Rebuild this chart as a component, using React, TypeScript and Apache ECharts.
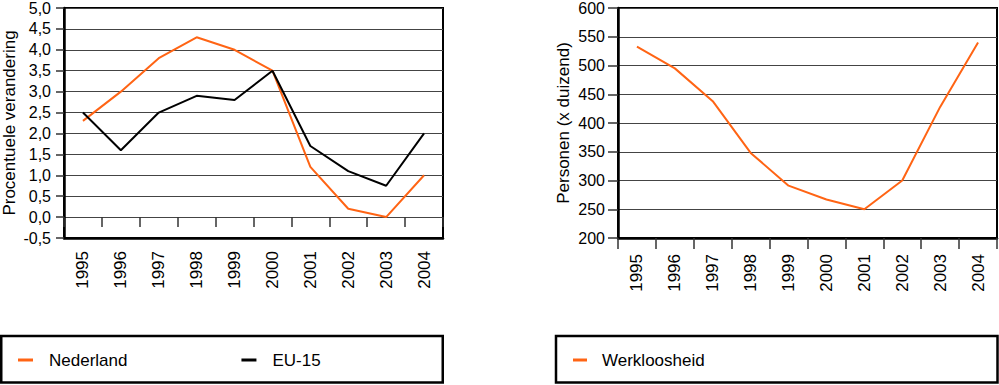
import React, { useEffect, useRef } from "react";
import * as echarts from "echarts";

const years = ["1995", "1996", "1997", "1998", "1999", "2000", "2001", "2002", "2003", "2004"];
const nederland = [2.3, 3.0, 3.8, 4.3, 4.0, 3.5, 1.2, 0.2, 0.0, 1.0];
const eu15 = [2.5, 1.6, 2.5, 2.9, 2.8, 3.5, 1.7, 1.1, 0.75, 2.0];
const werkloosheid = [533, 495, 438, 348, 291, 267, 250, 300, 428, 540];

const ORANGE = "#ff6414";
const FONT = "'Liberation Sans', Arial, sans-serif";

export default function App() {
  const ref = useRef<HTMLDivElement>(null);
  useEffect(() => {
    document.body.style.margin = "0";
    if (!ref.current) return;
    const chart = echarts.init(ref.current, undefined, { renderer: "svg" });
    const axisLabelStyle = { color: "#000", fontSize: 16, fontFamily: FONT };
    const yearLabel = {
      rotate: 90,
      color: "#000",
      fontSize: 17,
      fontFamily: FONT,
      interval: 0,
    };
    chart.setOption({
      animation: false,
      textStyle: { fontFamily: FONT },
      grid: [
        { left: 63, top: 6, width: 380, height: 232, show: true, borderColor: "#000", borderWidth: 2, containLabel: false },
        { left: 618, top: 6, width: 379, height: 232, show: true, borderColor: "#000", borderWidth: 2, containLabel: false },
      ],
      xAxis: [
        {
          type: "category",
          gridIndex: 0,
          position: "bottom",
          data: years,
          boundaryGap: true,
          axisLine: { show: true, onZero: false, lineStyle: { color: "#000", width: 2.5 } },
          axisTick: { show: false },
          axisLabel: { ...yearLabel, margin: 13 },
        },
        {
          type: "category",
          gridIndex: 0,
          position: "bottom",
          data: years,
          boundaryGap: true,
          axisLine: { show: false, onZero: true },
          axisTick: { show: true, length: 10, lineStyle: { color: "#333", width: 1.5 } },
          axisLabel: { show: false },
        },
        {
          type: "category",
          gridIndex: 1,
          position: "bottom",
          data: years,
          boundaryGap: true,
          axisLine: { show: true, onZero: false, lineStyle: { color: "#000", width: 2.5 } },
          axisTick: { show: true, length: 11, lineStyle: { color: "#333", width: 1.5 } },
          axisLabel: { ...yearLabel, margin: 16 },
        },
      ],
      yAxis: [
        {
          type: "value",
          gridIndex: 0,
          min: -0.5,
          max: 5,
          interval: 0.5,
          name: "Procentuele verandering",
          nameLocation: "middle",
          nameGap: 46,
          nameTextStyle: { color: "#000", fontSize: 17, fontFamily: FONT },
          axisLine: { show: true, lineStyle: { color: "#000", width: 2.5 } },
          axisTick: { show: true, length: 8, lineStyle: { color: "#333", width: 1.5 } },
          axisLabel: {
            ...axisLabelStyle,
            margin: 13,
            formatter: (v: number) => v.toFixed(1).replace(".", ","),
          },
          splitLine: { show: true, lineStyle: { color: "#444", width: 1 } },
        },
        {
          type: "value",
          gridIndex: 1,
          min: 200,
          max: 600,
          interval: 50,
          name: "Personen (x duizend)",
          nameLocation: "middle",
          nameGap: 46,
          nameTextStyle: { color: "#000", fontSize: 17, fontFamily: FONT },
          axisLine: { show: true, lineStyle: { color: "#000", width: 2.5 } },
          axisTick: { show: true, length: 10, lineStyle: { color: "#333", width: 1.5 } },
          axisLabel: { ...axisLabelStyle, margin: 13 },
          splitLine: { show: true, lineStyle: { color: "#444", width: 1 } },
        },
      ],
      legend: [
        {
          data: ["Nederland", "EU-15"],
          left: 18,
          top: 350,
          padding: 0,
          icon: "rect",
          itemWidth: 15,
          itemHeight: 3,
          itemGap: 114,
          textStyle: { color: "#000", fontSize: 17, fontFamily: FONT, lineHeight: 20, padding: [0, 0, 0, 11] },
        },
        {
          data: ["Werkloosheid"],
          left: 573,
          top: 350,
          padding: 0,
          icon: "rect",
          itemWidth: 14,
          itemHeight: 3,
          textStyle: { color: "#000", fontSize: 17, fontFamily: FONT, lineHeight: 20, padding: [0, 0, 0, 10] },
        },
      ],
      graphic: [
        { type: "rect", shape: { x: 1.25, y: 336, width: 441.5, height: 46.5 }, style: { fill: "none", stroke: "#000", lineWidth: 2.5 } },
        { type: "rect", shape: { x: 556, y: 336, width: 441.5, height: 46.5 }, style: { fill: "none", stroke: "#000", lineWidth: 2.5 } },
      ],
      series: [
        {
          name: "Nederland",
          type: "line",
          xAxisIndex: 0,
          yAxisIndex: 0,
          data: nederland,
          symbol: "none",
          lineStyle: { color: ORANGE, width: 2 },
          itemStyle: { color: ORANGE },
        },
        {
          name: "EU-15",
          type: "line",
          xAxisIndex: 0,
          yAxisIndex: 0,
          data: eu15,
          symbol: "none",
          lineStyle: { color: "#000", width: 2 },
          itemStyle: { color: "#000" },
        },
        {
          name: "Werkloosheid",
          type: "line",
          xAxisIndex: 2,
          yAxisIndex: 1,
          data: werkloosheid,
          symbol: "none",
          lineStyle: { color: ORANGE, width: 2 },
          itemStyle: { color: ORANGE },
        },
      ],
    });
    return () => chart.dispose();
  }, []);
  return <div ref={ref} style={{ width: 999, height: 385 }} />;
}
